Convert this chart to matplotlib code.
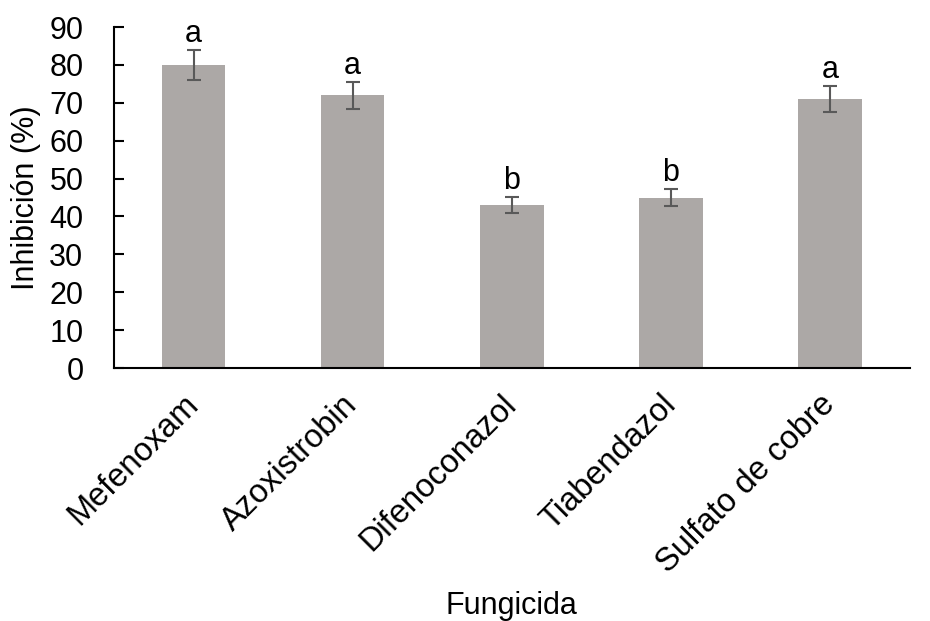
import matplotlib.pyplot as plt
import matplotlib.transforms as mtransforms

plt.rcParams['font.family'] = ['Liberation Sans', 'DejaVu Sans']

fungicidas = ['Mefenoxam', 'Azoxistrobin', 'Difenoconazol', 'Tiabendazol', 'Sulfato de cobre']
inhibicion = [80, 72, 43, 45, 71]
error = [4, 3.6, 2.2, 2.2, 3.5]
letras = ['a', 'a', 'b', 'b', 'a']

fig = plt.figure(figsize=(9.3, 6.21), dpi=100)
ax = fig.add_axes([0.1226, 0.4074, 0.8554, 0.5491])

x = range(len(fungicidas))
ax.bar(x, inhibicion, width=0.4, color='#aca8a6', zorder=2)
ax.errorbar(x, inhibicion, yerr=error, fmt='none', ecolor='#595959',
            elinewidth=1.5, capsize=5, capthick=1.5, zorder=3)
for i in x:
    ax.text(i, inhibicion[i] + error[i] + 0.2, letras[i], ha='center', va='bottom', fontsize=22)

ax.set_xlim(-0.5, 4.5)
ax.set_ylim(0, 90)
ax.set_yticks(range(0, 91, 10))
ax.set_xticks(list(x))
ax.set_xticklabels(fungicidas, rotation=45, ha='right', va='center', rotation_mode='anchor', fontsize=23.5)
# desplazar un poco las etiquetas a la derecha
desp = mtransforms.ScaledTranslation(5 / 100, 0, fig.dpi_scale_trans)
for lab in ax.get_xticklabels():
    lab.set_transform(lab.get_transform() + desp)
ax.tick_params(axis='x', length=0, pad=23)
ax.tick_params(axis='y', labelsize=22, length=7, width=1.5, direction='in', pad=22)
ax.spines['top'].set_visible(False)
ax.spines['right'].set_visible(False)
ax.spines['left'].set_linewidth(1.5)
ax.spines['bottom'].set_linewidth(1.5)
ax.set_ylabel('Inhibición (%)', fontsize=22, labelpad=6)
ax.set_xlabel('Fungicida', fontsize=22)
ax.xaxis.set_label_coords(0.5, -0.655)

fig.savefig('out.png', dpi=100)
